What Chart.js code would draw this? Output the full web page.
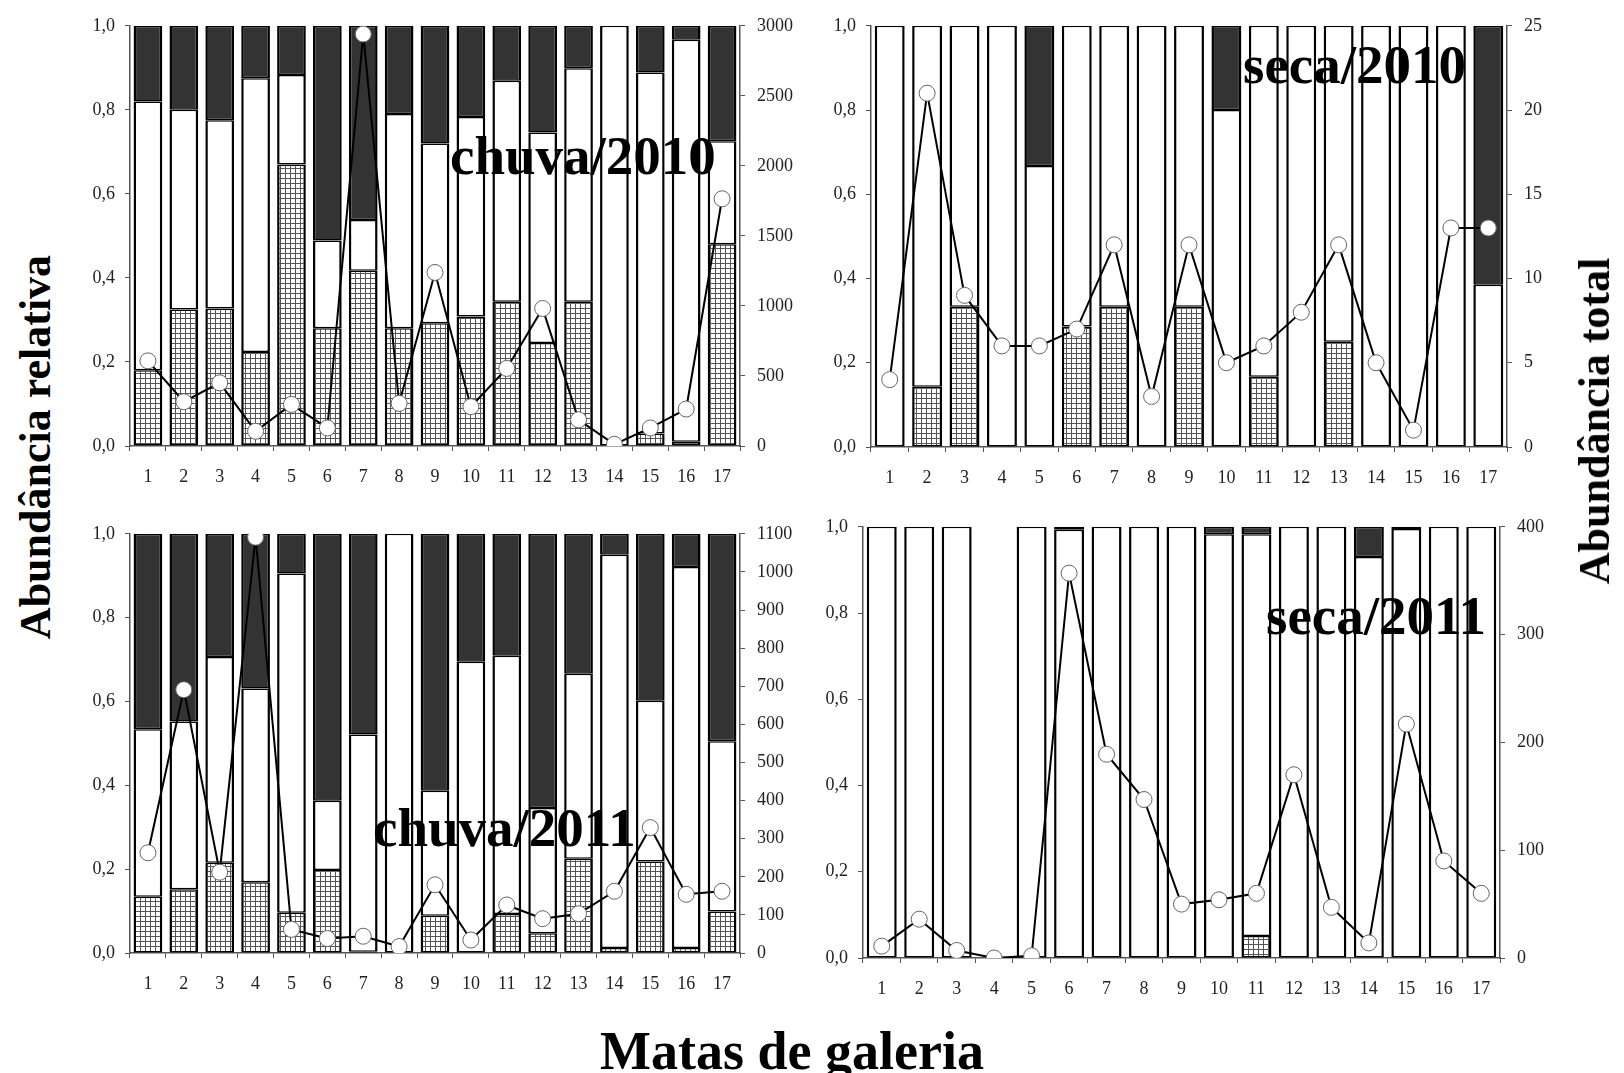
<!DOCTYPE html>
<html>
<head>
<meta charset="utf-8">
<script src="https://cdn.jsdelivr.net/npm/chart.js@4.4.0/dist/chart.umd.min.js"></script>
<style>
body{margin:0;background:#fff;width:1624px;height:1073px;position:relative;overflow:hidden;font-family:'Liberation Serif',serif;}
canvas{position:absolute;}
.lbl{position:absolute;font-weight:bold;font-size:55px;line-height:1;white-space:nowrap;color:#000;}
.vt{position:absolute;font-weight:bold;font-size:44px;line-height:1;white-space:nowrap;color:#000;transform:translate(-50%,-50%) rotate(-90deg);}
</style>
</head>
<body>
<canvas id="c1" width="735" height="493" style="left:75px;top:3px"></canvas>
<canvas id="c2" width="761" height="494" style="left:816px;top:3px"></canvas>
<canvas id="c3" width="735" height="492" style="left:75px;top:511px"></canvas>
<canvas id="c4" width="762" height="504" style="left:808px;top:504px"></canvas>

<div class="lbl" style="left:450px;top:128px">chuva/2010</div>
<div class="lbl" style="left:1243px;top:37px">seca/2010</div>
<div class="lbl" style="left:373px;top:800px">chuva/2011</div>
<div class="lbl" style="left:1266px;top:588px">seca/2011</div>
<div class="vt" style="left:36px;top:447px">Abundância relativa</div>
<div class="vt" style="left:1595px;top:421px">Abundância total</div>
<div class="lbl" style="left:792px;top:1024px;font-size:54px;transform:translateX(-50%)">Matas de galeria</div>

<script>
// matas de galeria
var matas = ["1","2","3","4","5","6","7","8","9","10","11","12","13","14","15","16","17"];

// chuva/2010 (abundancia relativa por grupo + abundancia total)
var chuva10Quad   = [0.18,0.325,0.327,0.224,0.67,0.28,0.417,0.28,0.292,0.308,0.343,0.245,0.343,0,0.03,0.01,0.48];
var chuva10Branco = [0.64,0.475,0.448,0.651,0.213,0.209,0.121,0.51,0.428,0.475,0.526,0.501,0.556,1.0,0.859,0.957,0.245];
var chuva10Escuro = [0.18,0.20,0.225,0.125,0.117,0.511,0.462,0.21,0.28,0.217,0.131,0.254,0.101,0,0.111,0.033,0.275];
var chuva10Total  = [608,316,451,105,297,129,2941,304,1239,281,554,982,187,12,129,264,1765];

// seca/2010
var seca10Quad   = [0,0.143,0.333,0,0,0.286,0.333,0,0.333,0,0.167,0,0.25,0,0,0,0];
var seca10Branco = [1,0.857,0.667,1,0.667,0.714,0.667,1,0.667,0.8,0.833,1,0.75,1,1,1,0.385];
var seca10Escuro = [0,0,0,0,0.333,0,0,0,0,0.2,0,0,0,0,0,0,0.615];
var seca10Total  = [4,21,9,6,6,7,12,3,12,5,6,8,12,5,1,13,13];

// chuva/2011
var chuva11Quad   = [0.134,0.152,0.215,0.169,0.096,0.198,0.003,0,0.089,0,0.093,0.047,0.225,0.012,0.218,0.012,0.099];
var chuva11Branco = [0.4,0.4,0.491,0.462,0.809,0.165,0.518,1.0,0.298,0.695,0.616,0.299,0.441,0.938,0.384,0.909,0.406];
var chuva11Escuro = [0.466,0.448,0.294,0.369,0.095,0.637,0.479,0,0.613,0.305,0.291,0.654,0.334,0.05,0.398,0.079,0.495];
var chuva11Total  = [263,691,212,1091,62,38,44,17,179,34,126,90,103,162,329,154,162];

// seca/2011
var seca11Quad   = [0,0,0,null,0,0,0,0,0,0,0.051,0,0,0,0,0,0];
var seca11Branco = [1,1,1,null,1,0.993,1,1,1,0.983,0.932,1,1,0.93,0.995,1,1];
var seca11Escuro = [0,0,0,null,0,0.007,0,0,0,0.017,0.017,0,0,0.07,0.005,0,0];
var seca11Total  = [11,36,7,0,2,357,189,147,50,54,60,170,47,14,217,90,60];

var fonte = { family: "'Liberation Serif', serif", size: 18 };

// padrao quadriculado
function quadriculado() {
    var c = document.createElement("canvas");
    c.width = 5; c.height = 5;
    var g = c.getContext("2d");
    g.fillStyle = "#fff";
    g.fillRect(0, 0, 5, 5);
    g.fillStyle = "#555";
    g.fillRect(0, 0, 5, 1);
    g.fillRect(0, 0, 1, 5);
    return g.createPattern(c, "repeat");
}

function barra(label, dados, cor, ordem) {
    return {
        type: "bar",
        label: label,
        data: dados,
        backgroundColor: cor,
        borderColor: "#000",
        borderWidth: { left: 2.5, right: 2.5, top: 1.5, bottom: 1.5 },
        borderSkipped: false,
        barPercentage: 0.8,
        categoryPercentage: 1,
        yAxisID: "y",
        order: ordem
    };
}

function painel(id, quad, branco, escuro, total, maxTotal, passo) {
    var ctx = document.getElementById(id).getContext("2d");
    return new Chart(ctx, {
        data: {
            labels: matas,
            datasets: [
                {
                    type: "line",
                    label: "total",
                    data: total,
                    yAxisID: "y2",
                    borderColor: "#000",
                    borderWidth: 2,
                    pointRadius: 8,
                    pointBackgroundColor: "#fff",
                    pointBorderColor: "#666",
                    pointBorderWidth: 1,
                    tension: 0,
                    order: 0
                },
                barra("quad", quad, quadriculado(), 1),
                barra("branco", branco, "#fff", 2),
                barra("escuro", escuro, "#333", 3)
            ]
        },
        options: {
            responsive: false,
            animation: false,
            layout: { padding: { top: 14, left: 0, right: 0, bottom: 0 } },
            plugins: { legend: { display: false }, tooltip: { enabled: false } },
            scales: {
                x: {
                    stacked: true,
                    grid: { display: true, drawOnChartArea: false, drawTicks: true, tickLength: 5, color: "#555", offset: true },
                    border: { display: true, color: "#555", width: 1.5 },
                    ticks: { font: fonte, color: "#222", padding: 15, maxRotation: 0 },
                    afterFit: function (s) { s.height = 50; }
                },
                y: {
                    stacked: true,
                    position: "left",
                    min: 0, max: 1,
                    grid: { drawOnChartArea: false, drawTicks: true, tickLength: 5, color: "#555" },
                    border: { display: true, color: "#555", width: 1.5 },
                    ticks: {
                        stepSize: 0.2, font: fonte, color: "#222", padding: 10,
                        callback: function (v) { return v.toFixed(1).replace(".", ","); }
                    },
                    afterFit: function (s) { s.width = 55; }
                },
                y2: {
                    position: "right",
                    min: 0, max: maxTotal,
                    grid: { drawOnChartArea: false, drawTicks: true, tickLength: 5, color: "#555" },
                    border: { display: true, color: "#555", width: 1.5 },
                    ticks: {
                        stepSize: passo, font: fonte, color: "#222", padding: 12,
                        callback: function (v) { return String(v); }
                    },
                    afterFit: function (s) { s.width = 70; }
                }
            }
        }
    });
}

painel("c1", chuva10Quad, chuva10Branco, chuva10Escuro, chuva10Total, 3000, 500);
painel("c2", seca10Quad, seca10Branco, seca10Escuro, seca10Total, 25, 5);
painel("c3", chuva11Quad, chuva11Branco, chuva11Escuro, chuva11Total, 1100, 100);
painel("c4", seca11Quad, seca11Branco, seca11Escuro, seca11Total, 400, 100);
</script>
</body>
</html>
